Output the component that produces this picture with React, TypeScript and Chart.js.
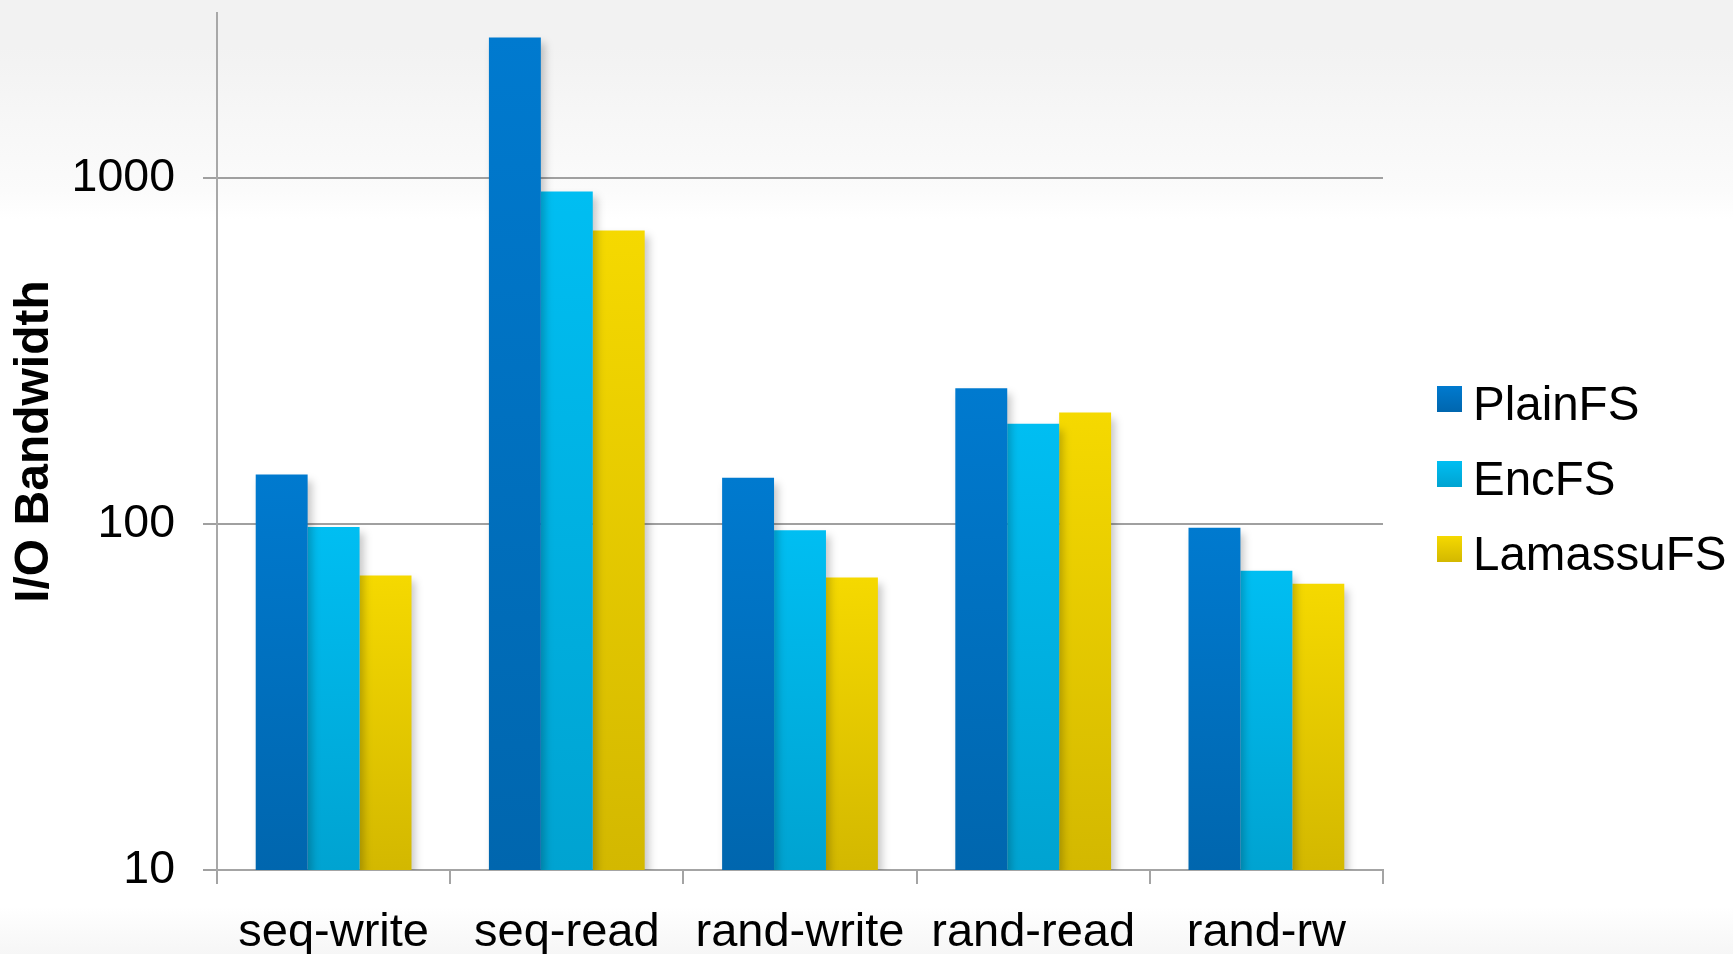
import React, { useEffect, useRef } from "react";
import { Chart, registerables } from "chart.js";

Chart.register(...registerables);

const categories = ["seq-write", "seq-read", "rand-write", "rand-read", "rand-rw"];
const plainFS = [139, 2550, 136, 247, 97.6];
const encFS = [98, 915, 96, 195, 73.3];
const lamassuFS = [71, 706, 70, 210, 67.2];
const yTickValues = [10, 100, 1000];
const seriesLabels = ["PlainFS", "EncFS", "LamassuFS"];
const seriesTop = ["#007ACF", "#00BEF2", "#F5D900"];
const seriesBottom = ["#0066AE", "#00A3D1", "#D3B800"];

const FONT = "'Liberation Sans', Arial, sans-serif";

function barFill(i: number) {
  return (ctx: any) => {
    const chart = ctx.chart;
    const area = chart.chartArea;
    if (!area || ctx.type !== "data" || !chart.scales.y) return seriesTop[i];
    const y = chart.scales.y.getPixelForValue(ctx.raw);
    if (!isFinite(y) || area.bottom - y < 1) return seriesTop[i];
    const g = chart.ctx.createLinearGradient(0, y, 0, area.bottom);
    g.addColorStop(0, seriesTop[i]);
    g.addColorStop(1, seriesBottom[i]);
    return g;
  };
}

const bgPlugin = {
  id: "bgGradient",
  beforeDraw(chart: any) {
    const { ctx, width, height } = chart;
    ctx.save();
    const g = ctx.createLinearGradient(0, 0, 0, height);
    g.addColorStop(0, "#F2F2F2");
    g.addColorStop(0.05, "#F2F2F2");
    g.addColorStop(0.13, "#F7F7F7");
    g.addColorStop(0.2, "#FBFBFB");
    g.addColorStop(0.23, "#FFFFFF");
    g.addColorStop(0.95, "#FFFFFF");
    g.addColorStop(1, "#F6F6F6");
    ctx.fillStyle = g;
    ctx.fillRect(0, 0, width, height);
    ctx.restore();
  },
};

const shadowPlugin = {
  id: "barShadow",
  beforeDatasetsDraw(chart: any) {
    const ctx = chart.ctx;
    ctx.save();
    ctx.shadowColor = "rgba(0,0,0,0.22)";
    ctx.shadowBlur = 8;
    ctx.shadowOffsetX = 4;
    ctx.shadowOffsetY = 6;
  },
  afterDatasetsDraw(chart: any) {
    chart.ctx.restore();
  },
};

const legendPlugin = {
  id: "customLegend",
  afterDraw(chart: any) {
    const ctx = chart.ctx;
    ctx.save();
    chart.data.datasets.forEach((ds: any, i: number) => {
      const baseline = 420 + i * 75;
      const bx = 1437;
      const by = baseline - 34;
      const g = ctx.createLinearGradient(0, by, 0, by + 26);
      g.addColorStop(0, seriesTop[i]);
      g.addColorStop(1, seriesBottom[i]);
      ctx.fillStyle = g;
      ctx.fillRect(bx, by, 25, 26);
      ctx.fillStyle = "#000000";
      ctx.font = `47.5px ${FONT}`;
      ctx.textAlign = "left";
      ctx.textBaseline = "alphabetic";
      ctx.fillText(ds.label, 1473, baseline);
    });
    ctx.restore();
  },
};

export default function App() {
  const canvasRef = useRef<HTMLCanvasElement | null>(null);

  useEffect(() => {
    document.body.style.margin = "0";
    const canvas = canvasRef.current;
    if (!canvas) return;
    const chart = new Chart(canvas, {
      type: "bar",
      data: {
        labels: categories,
        datasets: [plainFS, encFS, lamassuFS].map((d, i) => ({
          label: seriesLabels[i],
          data: d,
          backgroundColor: barFill(i),
          borderWidth: 0,
          categoryPercentage: 0.668,
          barPercentage: 1.0,
        })),
      },
      options: {
        responsive: false,
        animation: false,
        events: [],
        layout: { padding: { left: 0, right: 350, top: 13, bottom: 0 } },
        plugins: {
          legend: { display: false },
          tooltip: { enabled: false },
          title: { display: false },
        },
        scales: {
          x: {
            type: "category",
            afterFit: (scale: any) => {
              scale.height = 84;
              scale.paddingLeft = 0;
              scale.paddingRight = 0;
            },
            border: { display: true, color: "#A4A4A4", width: 2 },
            grid: {
              display: true,
              offset: true,
              drawOnChartArea: false,
              drawTicks: true,
              tickLength: 14,
              color: "#A4A4A4",
              lineWidth: 2,
            },
            ticks: {
              color: "#000000",
              font: { family: FONT, size: 47, lineHeight: 1.2 },
              padding: 21,
              maxRotation: 0,
              minRotation: 0,
              autoSkip: false,
            },
          },
          y: {
            type: "logarithmic",
            min: 10,
            max: 3000,
            afterFit: (scale: any) => {
              scale.width = 217;
              scale.paddingTop = 0;
              scale.paddingBottom = 0;
            },
            afterBuildTicks: (scale: any) => {
              scale.ticks = yTickValues.map((v) => ({ value: v }));
            },
            border: { display: true, color: "#A8A8A8", width: 2 },
            grid: {
              display: true,
              drawOnChartArea: true,
              drawTicks: true,
              tickLength: 14,
              color: "#A0A0A0",
              lineWidth: 2,
            },
            ticks: {
              color: "#000000",
              font: { family: FONT, size: 46.5, lineHeight: 1.2 },
              padding: 28,
              callback: (v: any) => String(v),
            },
            title: {
              display: true,
              text: "I/O Bandwidth",
              color: "#000000",
              font: { family: FONT, size: 48, weight: "bold", lineHeight: 1 },
              padding: { top: 11, bottom: 0 },
            },
          },
        },
      },
      plugins: [bgPlugin, shadowPlugin, legendPlugin],
    });
    return () => chart.destroy();
  }, []);

  return (
    <div style={{ position: "fixed", left: 0, top: 0, width: 1733, height: 954 }}>
      <canvas ref={canvasRef} width={1733} height={954} style={{ display: "block", width: 1733, height: 954 }} />
    </div>
  );
}
